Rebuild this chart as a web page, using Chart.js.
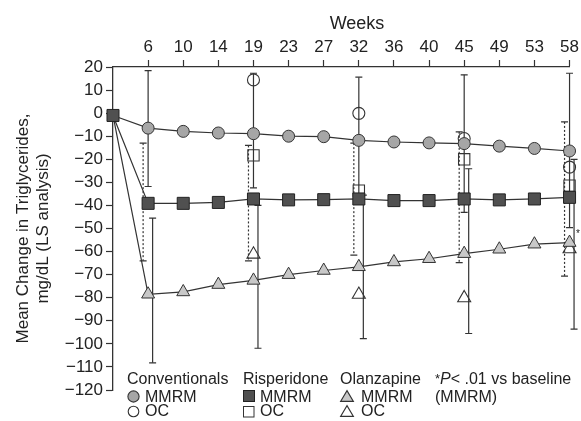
<!DOCTYPE html>
<html><head><meta charset="utf-8">
<script src="https://cdn.jsdelivr.net/npm/chart.js@4"></script>
<style>
html,body{margin:0;padding:0;background:#fff;}
#wrap{position:relative;width:581px;height:421px;font-family:'Liberation Sans',Arial,sans-serif;color:#222;overflow:hidden;}
#c{position:absolute;left:0;top:0;}
.t{position:absolute;font-size:16px;line-height:16px;white-space:nowrap;}
svg.m{position:absolute;overflow:visible;}
</style></head><body>
<div id="wrap">
<canvas id="c" width="581" height="421"></canvas>
<div class="t" style="left:307px;top:14px;width:100px;text-align:center;font-size:18px;line-height:18px;">Weeks</div>
<div class="t" style="left:576px;top:229px;font-size:10px;line-height:10px;">*</div>

<div class="t" style="left:127px;top:371px;">Conventionals</div>
<svg class="m" style="left:127px;top:390px" width="13" height="13"><circle cx="6.5" cy="6.5" r="5.6" fill="#a6a6a6" stroke="#333" stroke-width="1.1"/></svg>
<div class="t" style="left:145px;top:389px;">MMRM</div>
<svg class="m" style="left:127px;top:405px" width="13" height="13"><circle cx="6.5" cy="6.5" r="5.3" fill="#fff" stroke="#333" stroke-width="1.1"/></svg>
<div class="t" style="left:145px;top:403px;">OC</div>

<div class="t" style="left:243px;top:371px;">Risperidone</div>
<svg class="m" style="left:243px;top:390px" width="12" height="12"><rect x="0.5" y="0.5" width="11" height="11" fill="#505050" stroke="#222" stroke-width="1"/></svg>
<div class="t" style="left:260px;top:389px;">MMRM</div>
<svg class="m" style="left:243px;top:406px" width="12" height="12"><rect x="0.5" y="0.5" width="10.5" height="10.5" fill="#fff" stroke="#333" stroke-width="1"/></svg>
<div class="t" style="left:260px;top:403px;">OC</div>

<div class="t" style="left:340px;top:371px;">Olanzapine</div>
<svg class="m" style="left:340px;top:390px" width="14" height="12"><polygon points="7,0.6 13.4,11.4 0.6,11.4" fill="#c8c8c8" stroke="#333" stroke-width="1.1"/></svg>
<div class="t" style="left:361px;top:389px;">MMRM</div>
<svg class="m" style="left:340px;top:405px" width="14" height="12"><polygon points="7,0.6 13.4,11.4 0.6,11.4" fill="#fff" stroke="#333" stroke-width="1.1"/></svg>
<div class="t" style="left:361px;top:403px;">OC</div>

<div class="t" style="left:435px;top:371px;"><span style="font-size:13px;vertical-align:1px">*</span><i>P</i>&lt; .01 vs baseline</div>
<div class="t" style="left:435px;top:389px;">(MMRM)</div>
</div>
<script>
// Categories (week labels; index 0 = baseline)
const weeks = ['', '6', '10', '14', '19', '23', '27', '32', '36', '40', '45', '49', '53', '58'];
const yTicksMin = -120, yTicksMax = 20, yStep = 10;

// MMRM series
const convMMRM = [-1, -6.5, -7.9, -8.6, -8.9, -10, -10.2, -11.8, -12.5, -12.9, -13.2, -14.3, -15.3, -16.4];
const rispMMRM = [-1, -39.1, -39.1, -38.7, -37.2, -37.6, -37.5, -37.2, -37.9, -37.9, -37.2, -37.6, -37.2, -36.5];
const olanMMRM = [-1, -78.5, -77.5, -74.3, -72.5, -70, -68.2, -66.6, -64.5, -63.1, -60.9, -59, -56.8, -56.1];

// OC series
const convOC = [null, null, null, null, 14.4, null, null, -0.1, null, null, -11, null, null, -23.4];
const rispOC = [null, null, null, null, -18.3, null, null, -33.6, null, null, -20, null, null, -31.4];
const olanOC = [null, null, null, null, -61.2, null, null, -78.6, null, null, -80.1, null, null, -58.9];

// Error bars (MMRM)
const convHi = [null, 18.4, null, null, 17.3, null, null, 15.6, null, null, 16.6, null, null, 17.3];
const convLo = [null, -31.8, null, null, -32.4, null, null, -38.6, null, null, -43, null, null, -49.6];
const rispHi = [null, -13, null, null, -14, null, null, -13, null, null, -8.1, null, null, -3.8];
const rispLo = [null, -64, null, null, -64, null, null, -61.5, null, null, -64.8, null, null, -70.6];
const olanHi = [null, -45.5, null, null, -40, null, null, -35.5, null, null, -24.1, null, null, -20];
const olanLo = [null, -108.2, null, null, -101.9, null, null, -97.7, null, null, -95.5, null, null, -93.6];

const FONT = "'Liberation Sans', Arial, sans-serif";
const DARK = '#333';

const errorBars = {
  id: 'errorBars',
  beforeDatasetsDraw(chart) {
    const {ctx, scales: {x, y}} = chart;
    const sets = [
      {hi: convHi, lo: convLo, dx: 0, dash: []},
      {hi: rispHi, lo: rispLo, dx: -5, dash: [2, 2]},
      {hi: olanHi, lo: olanLo, dx: 4.5, dash: []}
    ];
    ctx.save();
    ctx.strokeStyle = DARK;
    ctx.lineWidth = 1.2;
    sets.forEach(s => {
      s.hi.forEach((h, i) => {
        if (h === null || s.lo[i] === null) return;
        const px = x.getPixelForValue(i) + s.dx;
        const y1 = y.getPixelForValue(h), y2 = y.getPixelForValue(s.lo[i]);
        ctx.setLineDash(s.dash);
        ctx.beginPath(); ctx.moveTo(px, y1); ctx.lineTo(px, y2); ctx.stroke();
        ctx.setLineDash([]);
        ctx.beginPath();
        ctx.moveTo(px - 3.5, y1); ctx.lineTo(px + 3.5, y1);
        ctx.moveTo(px - 3.5, y2); ctx.lineTo(px + 3.5, y2);
        ctx.stroke();
      });
    });
    ctx.restore();
  }
};

const hideFirst = r => (ctx => ctx.dataIndex === 0 ? 0 : r);

new Chart(document.getElementById('c'), {
  type: 'line',
  data: {
    labels: weeks,
    datasets: [
      {label: 'Risperidone MMRM', data: rispMMRM, pointStyle: 'rect', pointRadius: 8.5, backgroundColor: '#505050', pointBackgroundColor: '#505050', borderColor: DARK, pointBorderColor: '#222', borderWidth: 1.2, pointBorderWidth: 1, clip: false},
      {label: 'Conventionals MMRM', data: convMMRM, pointStyle: 'circle', pointRadius: hideFirst(6), backgroundColor: '#a6a6a6', pointBackgroundColor: '#a6a6a6', borderColor: DARK, pointBorderColor: DARK, borderWidth: 1.2, pointBorderWidth: 1, clip: false},
      {label: 'Olanzapine MMRM', data: olanMMRM, pointStyle: 'triangle', pointRadius: hideFirst(7.5), backgroundColor: '#c8c8c8', pointBackgroundColor: '#c8c8c8', borderColor: DARK, pointBorderColor: DARK, borderWidth: 1.2, pointBorderWidth: 1, clip: false},
      {label: 'Conventionals OC', data: convOC, showLine: false, pointStyle: 'circle', pointRadius: 6, pointBackgroundColor: 'rgba(255,255,255,0)', pointBorderColor: DARK, pointBorderWidth: 1.1, clip: false},
      {label: 'Risperidone OC', data: rispOC, showLine: false, pointStyle: 'rect', pointRadius: 8, pointBackgroundColor: 'rgba(255,255,255,0)', pointBorderColor: DARK, pointBorderWidth: 1.1, clip: false},
      {label: 'Olanzapine OC', data: olanOC, showLine: false, pointStyle: 'triangle', pointRadius: 7.5, pointBackgroundColor: 'rgba(255,255,255,0)', pointBorderColor: DARK, pointBorderWidth: 1.1, clip: false}
    ]
  },
  options: {
    responsive: false,
    animation: false,
    devicePixelRatio: 1,
    layout: {padding: {left: 0, top: 0, right: 11, bottom: 31}},
    plugins: {legend: {display: false}, tooltip: {enabled: false}},
    elements: {line: {tension: 0}},
    scales: {
      x: {
        type: 'category',
        position: 'top',
        offset: false,
        afterFit: s => { s.height = 67; },
        grid: {drawOnChartArea: false, drawTicks: true, tickLength: 7, tickWidth: 1.2, color: c => c.index === 0 ? 'rgba(0,0,0,0)' : DARK},
        border: {display: true, color: DARK, width: 1.3},
        ticks: {color: '#222', font: {family: FONT, size: 17}, padding: 2, maxRotation: 0, autoSkip: false}
      },
      y: {
        min: yTicksMin, max: yTicksMax,
        afterFit: s => { s.width = 113; },
        grid: {drawOnChartArea: false, drawTicks: true, tickLength: 7, tickWidth: 1.2, color: DARK},
        border: {display: true, color: DARK, width: 1.3},
        ticks: {stepSize: yStep, autoSkip: false, color: '#222', font: {family: FONT, size: 17, lineHeight: 1}, padding: 3,
          callback: v => String(v).replace('-', '\u2212')},
        title: {display: true, text: ['Mean Change in Triglycerides,', 'mg/dL (LS analysis)'], color: '#222',
          font: {family: FONT, size: 17, lineHeight: 1.2}, padding: {top: 13, bottom: 0}}
      }
    }
  },
  plugins: [errorBars]
});
</script>
</body></html>
